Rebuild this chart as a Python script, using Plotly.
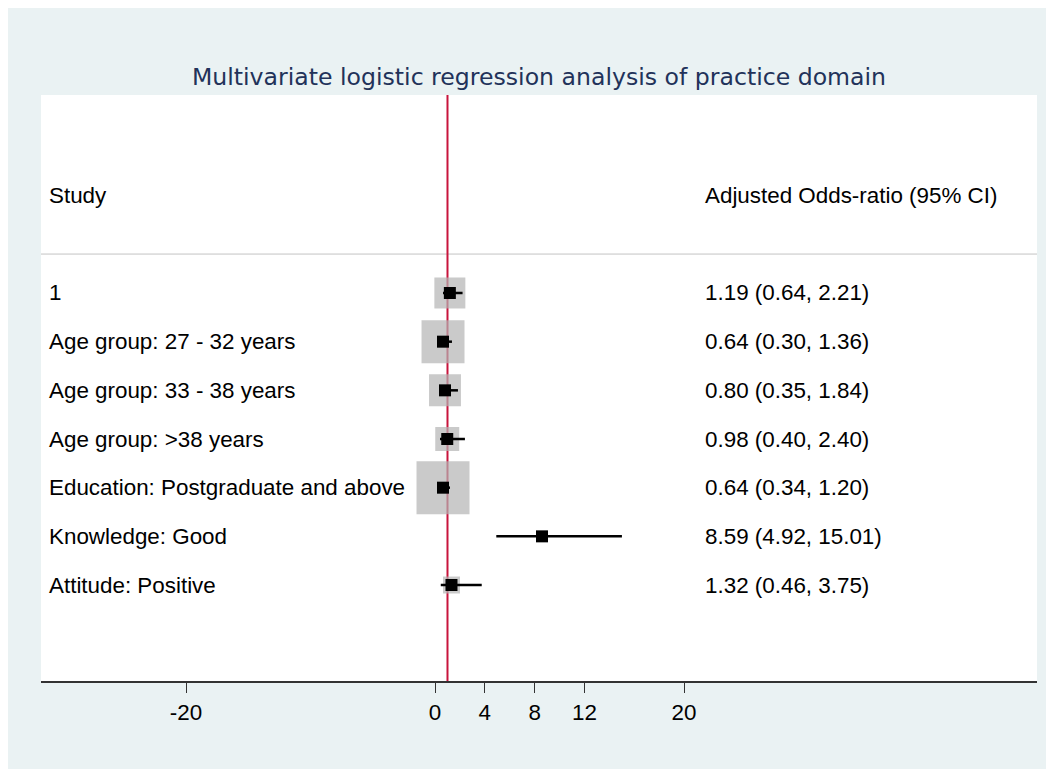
import math
import plotly.graph_objects as go

# ---------------- data ----------------
studies = [
    "1",
    "Age group: 27 - 32 years",
    "Age group: 33 - 38 years",
    "Age group: >38 years",
    "Education: Postgraduate and above",
    "Knowledge: Good",
    "Attitude: Positive",
]
odds_ratio = [1.19, 0.64, 0.80, 0.98, 0.64, 8.59, 1.32]
ci_lower = [0.64, 0.30, 0.35, 0.40, 0.34, 4.92, 0.46]
ci_upper = [2.21, 1.36, 1.84, 2.40, 1.20, 15.01, 3.75]
weights = [12.7, 24.4, 13.5, 7.6, 37.1, 0.9, 3.8]  # study weights (%), drive grey box size
tick_values = [-20, 0, 4, 8, 12, 20]
null_value = 1
title_text = "Multivariate logistic regression analysis of practice domain"
header_left = "Study"
header_right = "Adjusted Odds-ratio (95% CI)"

# ---------------- styling ----------------
BG = "#EAF2F3"
TITLE_COL = "#22325A"
FONT = "Liberation Sans, Arial, sans-serif"
FS = 22.4
W, H = 1046, 761
L, R, T, B = 33, 17, 87, 88  # plot area 33..1029 x 87..673 (page adds 8px offset)

rows = list(range(1, len(studies) + 1))
value_labels = [f"{o:.2f} ({lo:.2f}, {hi:.2f})" for o, lo, hi in zip(odds_ratio, ci_lower, ci_upper)]

fig = go.Figure()

# grey weight boxes
fig.add_trace(go.Scatter(
    x=odds_ratio, y=rows, mode="markers",
    marker=dict(symbol="square", size=[8.7 * math.sqrt(w) for w in weights],
                color="#B4B4B4", line=dict(width=0)),
    hoverinfo="skip", showlegend=False))

# CI lines
ci_x, ci_y = [], []
for lo, hi, r in zip(ci_lower, ci_upper, rows):
    ci_x += [lo, hi, None]
    ci_y += [r, r, None]
fig.add_trace(go.Scatter(x=ci_x, y=ci_y, mode="lines",
                         line=dict(color="black", width=2.5),
                         hoverinfo="skip", showlegend=False))

# point estimates
fig.add_trace(go.Scatter(
    x=odds_ratio, y=rows, mode="markers",
    marker=dict(symbol="square", size=12, color="black", line=dict(width=0)),
    showlegend=False))

shapes = [
    # separator under header
    dict(type="line", xref="paper", yref="y", x0=0, x1=1, y0=0.2, y1=0.2,
         line=dict(color="#C4C4C4", width=1), layer="below"),
    # null line
    dict(type="line", xref="x", yref="paper", x0=null_value, x1=null_value, y0=0, y1=1,
         line=dict(color="#C8143C", width=2), layer="below"),
]

annotations = []
lab_x = (48 - 8 - L) / (W - L - R) - 0.001
val_x = (704 - 8 - L) / (W - L - R) - 0.001
font = dict(family=FONT, size=FS, color="black")
annotations.append(dict(x=lab_x, y=-1, xref="paper", yref="y", text=header_left,
                        showarrow=False, xanchor="left", yanchor="middle", font=font))
annotations.append(dict(x=val_x, y=-1, xref="paper", yref="y", text=header_right,
                        showarrow=False, xanchor="left", yanchor="middle", font=font))
for s, v, r in zip(studies, value_labels, rows):
    annotations.append(dict(x=lab_x, y=r, xref="paper", yref="y", text=s,
                            showarrow=False, xanchor="left", yanchor="middle", font=font))
    annotations.append(dict(x=val_x, y=r, xref="paper", yref="y", text=v,
                            showarrow=False, xanchor="left", yanchor="middle", font=font))

fig.update_layout(
    width=W, height=H,
    margin=dict(l=L, r=R, t=T, b=B, pad=0),
    paper_bgcolor=BG,
    plot_bgcolor="white",
    title=dict(text=title_text, x=0.5, xref="paper", xanchor="center",
               y=1 - 69 / H, yref="container", yanchor="middle",
               font=dict(family="DejaVu Sans, sans-serif", size=23.6, color=TITLE_COL)),
    shapes=shapes,
    annotations=annotations,
    xaxis=dict(range=[-31.65, 48.35], tickmode="array", tickvals=tick_values,
               ticktext=[str(t) for t in tick_values],
               showgrid=False, zeroline=False, showline=True, linecolor="#333333",
               linewidth=2, ticks="outside", ticklen=10, tickwidth=1, tickcolor="#333333",
               tickfont=dict(family=FONT, size=FS, color="black"), fixedrange=True),
    yaxis=dict(range=[8.972, -3.068], visible=False, fixedrange=True),
    showlegend=False,
)

fig.write_html("out.html")
